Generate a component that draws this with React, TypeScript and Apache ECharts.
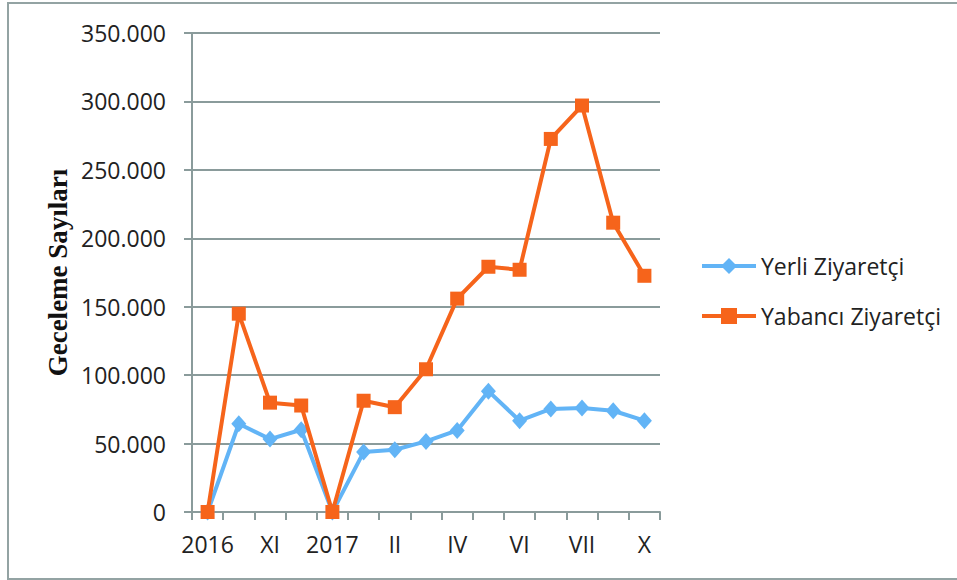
import React, { useEffect, useRef } from "react";
import * as echarts from "echarts";

const categories = ["2016", "X-2016", "XI", "XII", "2017", "I", "II", "III", "IV", "V", "VI", "VI-2", "VII", "VIII", "X"];
const yerli = [0, 64500, 53300, 60100, 0, 43800, 45500, 51600, 59600, 88300, 66700, 75300, 76000, 74000, 66700];
const yabanci = [0, 144900, 79900, 77800, 0, 81300, 76600, 104300, 155900, 179200, 177000, 272600, 297000, 211400, 172600];
const yTicks = { min: 0, max: 350000, interval: 50000 };

const GRID = "#8A9B9B";
const BLUE = "#62B4F6";
const ORANGE = "#F6641B";
const FONT = "Open Sans";

const fmt = (v: number) => (v === 0 ? "0" : String(v).replace(/\B(?=(\d{3})+(?!\d))/g, "."));

export default function App() {
  const ref = useRef<HTMLDivElement>(null);
  useEffect(() => {
    if (!ref.current) return;
    const chart = echarts.init(ref.current, undefined, { renderer: "svg" });
    chart.setOption({
      animation: false,
      backgroundColor: "#fff",
      grid: { left: 192, right: 297, top: 33, bottom: 68 },
      graphic: [
        {
          type: "rect",
          shape: { x: 8, y: 3, width: 1000, height: 576 },
          style: { fill: "none", stroke: "#93A3A3", lineWidth: 2 },
          silent: true,
        },
      ],
      legend: {
        orient: "vertical",
        left: 695,
        top: 247,
        itemWidth: 54,
        itemHeight: 20,
        itemGap: 22,
        lineStyle: { width: 4 },
        textStyle: { fontFamily: FONT, fontSize: 23, color: "#222", lineHeight: 28 },
        data: ["Yerli Ziyaretçi", "Yabancı Ziyaretçi"],
      },
      xAxis: {
        type: "category",
        data: categories,
        boundaryGap: true,
        axisLine: { lineStyle: { color: GRID, width: 2 } },
        axisTick: { show: true, interval: 0, length: 8, lineStyle: { color: GRID, width: 2 } },
        axisLabel: {
          interval: 1,
          margin: 20,
          fontFamily: FONT,
          fontSize: 23,
          color: "#222",
          formatter: (v: string) => v.split("-")[0],
        },
      },
      yAxis: {
        type: "value",
        min: yTicks.min,
        max: yTicks.max,
        interval: yTicks.interval,
        name: "Geceleme Sayıları",
        nameLocation: "middle",
        nameRotate: 90,
        nameGap: 121,
        nameTextStyle: { fontFamily: "Liberation Serif", fontWeight: "bold", fontSize: 27, color: "#111" },
        axisLine: { show: true, lineStyle: { color: GRID, width: 2 } },
        axisTick: { show: true, length: 8, lineStyle: { color: GRID, width: 2 } },
        splitLine: { show: true, lineStyle: { color: GRID, width: 2 } },
        axisLabel: { margin: 26, fontFamily: FONT, fontSize: 23, color: "#222", formatter: fmt },
      },
      series: [
        {
          name: "Yerli Ziyaretçi",
          type: "line",
          data: yerli,
          symbol: "diamond",
          symbolSize: [15, 17],
          lineStyle: { color: BLUE, width: 4 },
          itemStyle: { color: BLUE },
          z: 3,
        },
        {
          name: "Yabancı Ziyaretçi",
          type: "line",
          data: yabanci,
          symbol: "rect",
          symbolSize: 14,
          lineStyle: { color: ORANGE, width: 4 },
          itemStyle: { color: ORANGE },
          z: 4,
        },
      ],
    });
    return () => chart.dispose();
  }, []);
  return <div ref={ref} style={{ position: "fixed", left: 0, top: 0, width: 957, height: 580 }} />;
}
